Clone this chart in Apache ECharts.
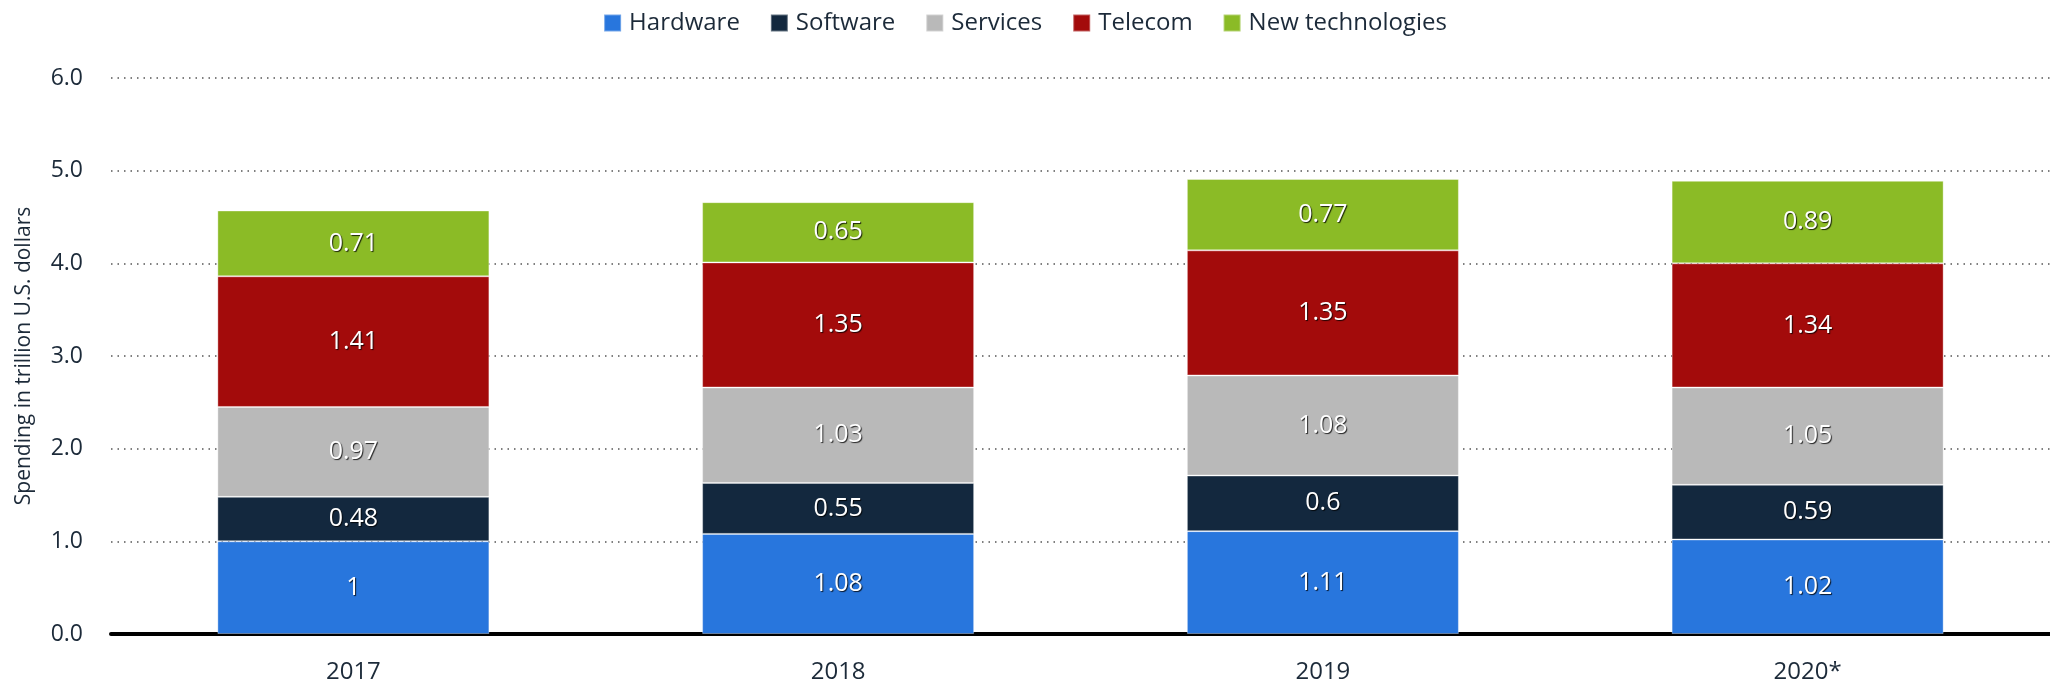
<!DOCTYPE html>
<html>
<head>
<meta charset="utf-8">
<script src="https://cdn.jsdelivr.net/npm/echarts@6/dist/echarts.min.js"></script>
<style>
  html, body { margin: 0; padding: 0; background: #fff; }
  #chart { width: 2050px; height: 685px; }
</style>
</head>
<body>
<div id="chart"></div>
<script>
var years = ['2017', '2018', '2019', '2020*'];
var hardware = [1, 1.08, 1.11, 1.02];
var software = [0.48, 0.55, 0.6, 0.59];
var services = [0.97, 1.03, 1.08, 1.05];
var telecom = [1.41, 1.35, 1.35, 1.34];
var newTech = [0.71, 0.65, 0.77, 0.89];
var yTicks = [0, 1, 2, 3, 4, 5, 6];

var myChart = echarts.init(document.getElementById('chart'));
var font = '"Open Sans", "Noto Sans", sans-serif';

function makeSeries(name, data, color) {
    return {
        name: name,
        type: 'bar',
        stack: 'total',
        data: data,
        barWidth: 272,
        itemStyle: {
            color: color,
            borderColor: 'rgba(255,255,255,0.35)',
            borderWidth: 1
        },
        label: {
            show: true,
            position: 'inside',
            color: '#fff',
            fontFamily: font,
            fontSize: 25,
            textShadowColor: 'rgba(0,0,0,0.8)',
            textShadowBlur: 1,
            textShadowOffsetX: 1,
            textShadowOffsetY: 1
        }
    };
}

var option = {
    animation: false,
    legend: {
        top: 6,
        left: 'center',
        itemWidth: 17,
        itemHeight: 17,
        itemGap: 30,
        icon: 'rect',
        textStyle: { fontFamily: font, fontSize: 24, color: '#1c2a39', padding: [0, 0, 0, 3] }
    },
    grid: { left: 111, right: -7, top: 78, bottom: 51 },
    xAxis: {
        type: 'category',
        data: years,
        axisLine: { lineStyle: { color: '#000', width: 4 } },
        axisTick: { show: false },
        axisLabel: { fontFamily: font, fontSize: 24, color: '#1c2a39', margin: 26 }
    },
    yAxis: {
        type: 'value',
        min: yTicks[0],
        max: yTicks[yTicks.length - 1],
        interval: 1,
        name: 'Spending in trillion U.S. dollars',
        nameLocation: 'middle',
        nameGap: 76,
        nameTextStyle: { fontFamily: font, fontSize: 21, color: '#1c2a39' },
        axisLabel: {
            fontFamily: font,
            fontSize: 23,
            color: '#1c2a39',
            margin: 28,
            formatter: function (v) { return v.toFixed(1); }
        },
        splitLine: { lineStyle: { color: '#555', width: 1.5, type: [1.5, 5] } }
    },
    series: [
        makeSeries('Hardware', hardware, '#2876dd'),
        makeSeries('Software', software, '#13283e'),
        makeSeries('Services', services, '#b9b9b9'),
        makeSeries('Telecom', telecom, '#a30b0b'),
        makeSeries('New technologies', newTech, '#8bbb26')
    ]
};
myChart.setOption(option);
</script>
</body>
</html>
